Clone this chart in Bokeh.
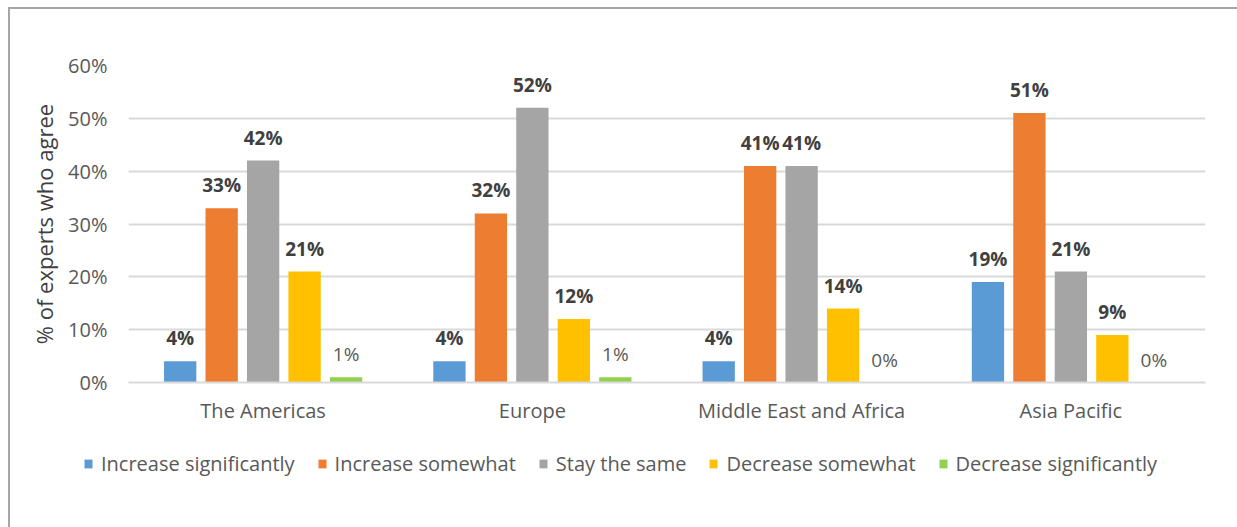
from bokeh.plotting import figure
from bokeh.layouts import column
from bokeh.models import (ColumnDataSource, FactorRange, Legend, LegendItem,
                          FixedTicker, PrintfTickFormatter)
from bokeh.transform import dodge
from bokeh.core.properties import value
from bokeh.embed import file_html
from bokeh.resources import INLINE

categories = ["The Americas", "Europe", "Middle East and Africa", "Asia Pacific"]
series_names = ["Increase significantly", "Increase somewhat", "Stay the same",
                "Decrease somewhat", "Decrease significantly"]
increase_significantly = [4, 4, 4, 19]
increase_somewhat = [33, 32, 41, 51]
stay_the_same = [42, 52, 41, 21]
decrease_somewhat = [21, 12, 14, 9]
decrease_significantly = [1, 1, 0, 0]
y_ticks = [0, 10, 20, 30, 40, 50, 60]

series_values = [increase_significantly, increase_somewhat, stay_the_same,
                 decrease_somewhat, decrease_significantly]
colors = ["#5b9bd5", "#ed7d31", "#a5a5a5", "#ffc000", "#92d050"]
offsets = [-0.308, -0.154, 0.0, 0.154, 0.308]
FONT = "Open Sans"

# the whole layout is shifted by the page border/margin: (10, 9)
p = figure(x_range=FactorRange(*categories, range_padding=0), y_range=(0, 60),
           width=1227, height=431, output_backend="svg", toolbar_location=None,
           min_border_left=118, min_border_right=32, min_border_top=56,
           min_border_bottom=58)
p.outline_line_color = None
p.background_fill_color = "white"
p.border_fill_color = "white"

for name, vals, col, off in zip(series_names, series_values, colors, offsets):
    src = ColumnDataSource(dict(cat=categories, val=vals,
                                lbl=[f"{v}%" for v in vals]))
    p.vbar(x=dodge("cat", off, range=p.x_range), top="val", width=0.12,
           source=src, fill_color=col, line_color=None)
    bold = name != "Decrease significantly"
    p.text(x=dodge("cat", off, range=p.x_range), y="val", text="lbl", source=src,
           text_align="center", text_baseline="middle", y_offset=-23,
           text_font=value(FONT), text_font_size="19px",
           text_font_style="bold" if bold else "normal",
           text_color="#404040" if bold else "#595959")

p.yaxis.ticker = FixedTicker(ticks=y_ticks)
p.yaxis.formatter = PrintfTickFormatter(format="%d%%")
p.yaxis.axis_label = "% of experts who agree"
p.yaxis.axis_label_text_font = FONT
p.yaxis.axis_label_text_font_style = "normal"
p.yaxis.axis_label_text_font_size = "22px"
p.yaxis.axis_label_text_color = "#404040"
p.yaxis.axis_label_standoff = 6
p.yaxis.axis_line_color = None
p.yaxis.major_tick_line_color = None
p.yaxis.major_tick_out = 0
p.yaxis.major_tick_in = 0
p.yaxis.minor_tick_line_color = None
p.yaxis.major_label_standoff = 21
p.yaxis.major_label_text_font = FONT
p.yaxis.major_label_text_font_size = "20px"
p.yaxis.major_label_text_color = "#595959"

p.xaxis.axis_line_color = "#d9d9d9"
p.xaxis.axis_line_width = 2
p.xaxis.major_tick_line_color = None
p.xaxis.major_tick_out = 0
p.xaxis.major_tick_in = 0
p.xaxis.minor_tick_line_color = None
p.xaxis.major_label_standoff = 14
p.xaxis.major_label_text_font = FONT
p.xaxis.major_label_text_font_size = "20px"
p.xaxis.major_label_text_color = "#595959"

p.xgrid.grid_line_color = None
p.ygrid.grid_line_color = "#d9d9d9"
p.ygrid.grid_line_width = 2
p.ygrid.ticker = FixedTicker(ticks=y_ticks)

# legend strip below the chart
leg = figure(width=1227, height=87, output_backend="svg", toolbar_location=None,
             x_axis_location=None, y_axis_location=None,
             min_border_left=0, min_border_right=0, min_border_top=0,
             min_border_bottom=0)
if "frame_align" in leg.properties():
    leg.frame_align = False
leg.outline_line_color = None
leg.xgrid.grid_line_color = None
leg.ygrid.grid_line_color = None
leg.border_fill_color = "white"
leg.background_fill_color = "white"
items = []
for name, col in zip(series_names, colors):
    r = leg.vbar(x=[0], top=[0], width=0, fill_color=col, line_color=None)
    items.append(LegendItem(label=name, renderers=[r]))
legend = Legend(items=items, orientation="horizontal", location=(73, 50),
                label_text_font=FONT, label_text_font_size="20px",
                label_text_color="#595959", glyph_width=10, glyph_height=11,
                label_standoff=8, spacing=22, border_line_color=None,
                background_fill_alpha=0, margin=0, padding=0)
leg.add_layout(legend, "center")

layout = column(p, leg, spacing=0)
layout.styles = {"border-top": "2px solid #a6a6a6", "border-left": "2px solid #a6a6a6",
                 "margin-left": "8px", "margin-top": "7px"}

open("out.html", "w").write(file_html(layout, INLINE))
